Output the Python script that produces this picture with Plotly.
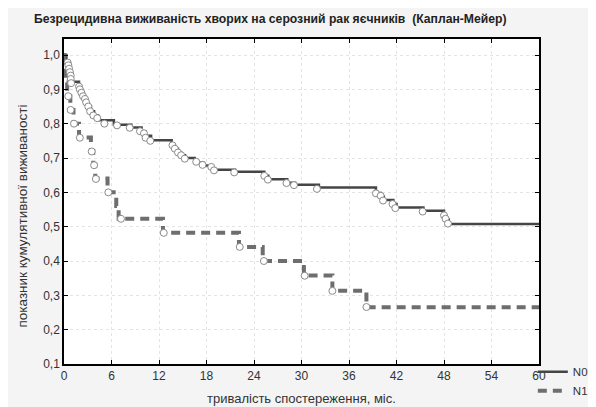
import plotly.graph_objects as go

# N0 step curve (time, survival)
t0 = [0, 0.3, 0.45, 0.6, 0.75, 0.9, 1.9, 2.1, 2.3, 2.5, 2.7, 2.9, 3.1, 3.4, 3.8, 4.3, 6.3, 8.5, 9.8,
      10.3, 11.0, 13.6, 14.0, 14.4, 14.8, 15.3, 16.5, 17.6, 18.6, 19.1, 21.6, 25.3, 25.8, 28.2, 29.2,
      32.2, 39.4, 40.0, 40.4, 41.6, 42.0, 45.4, 48.0, 48.3, 48.6, 60]
s0 = [1.0, 0.985, 0.97, 0.955, 0.94, 0.922, 0.908, 0.899, 0.889, 0.879, 0.87, 0.86, 0.85, 0.836, 0.824,
      0.81, 0.797, 0.789, 0.778, 0.765, 0.752, 0.738, 0.727, 0.716, 0.708, 0.70, 0.687, 0.678, 0.668,
      0.666, 0.66, 0.648, 0.638, 0.628, 0.622, 0.614, 0.598, 0.588, 0.578, 0.566, 0.556, 0.546, 0.532,
      0.521, 0.508, 0.508]
# N0 censored observations
c0x = [0.46, 0.55, 0.65, 0.75, 0.85, 0.85, 0.9, 1.9, 2.0, 2.2, 2.4, 2.65, 2.8, 3.07, 3.3, 3.7, 4.2, 5.1,
       6.7, 8.3, 9.6, 10.1, 10.3, 10.9, 13.7, 14.0, 14.4, 14.8, 15.25, 16.7, 17.5, 18.6, 18.95, 21.5,
       25.3, 25.75, 28.1, 29.05, 31.95, 39.4, 40.0, 40.3, 41.5, 41.85, 45.3, 48.0, 48.2, 48.5]
c0y = [0.978, 0.97, 0.96, 0.95, 0.94, 0.93, 0.918, 0.908, 0.90, 0.89, 0.88, 0.872, 0.862, 0.85, 0.836,
       0.824, 0.816, 0.80, 0.795, 0.788, 0.778, 0.772, 0.759, 0.75, 0.737, 0.727, 0.716, 0.708, 0.698,
       0.689, 0.68, 0.674, 0.664, 0.658, 0.648, 0.637, 0.627, 0.621, 0.61, 0.597, 0.59, 0.576, 0.566,
       0.554, 0.544, 0.533, 0.523, 0.509]

# N1 step curve
t1 = [0, 0.05, 0.15, 0.4, 0.8, 1.2, 1.9, 3.4, 3.7, 3.95, 5.5, 6.6, 6.9, 12.5, 22.1, 25.1, 30.3, 33.9, 38.2, 60]
s1 = [1.0, 0.96, 0.92, 0.88, 0.84, 0.80, 0.76, 0.72, 0.68, 0.64, 0.60, 0.56, 0.523, 0.482, 0.441, 0.40,
      0.358, 0.313, 0.265, 0.265]
c1x = [0.54, 0.84, 1.26, 2.0, 3.5, 3.8, 4.03, 5.6, 7.2, 12.6, 22.2, 25.25, 30.4, 33.9, 38.2]
c1y = [0.88, 0.84, 0.80, 0.759, 0.719, 0.679, 0.639, 0.60, 0.523, 0.482, 0.441, 0.40, 0.357, 0.313, 0.266]

x_ticks = [0, 6, 12, 18, 24, 30, 36, 42, 48, 54, 60]
y_ticks = [0.1, 0.2, 0.3, 0.4, 0.5, 0.6, 0.7, 0.8, 0.9, 1.0]

title = "Безрецидивна виживаність хворих на серозний рак яєчників  (Каплан-Мейер)"
x_title = "тривалість спостереження, міс."
y_title = "показник кумулятивної виживаності"

FONT = "Liberation Sans, Arial"

fig = go.Figure()
fig.add_trace(go.Scatter(x=t0, y=s0, mode="lines", line=dict(shape="hv", color="#454545", width=2.5),
                         name="N0"))
fig.add_trace(go.Scatter(x=t1, y=s1, mode="lines", line=dict(shape="hv", color="#6e6e6e", width=4,
                         dash="9px,6px"), name="N1"))
fig.add_trace(go.Scatter(x=c0x, y=c0y, mode="markers", showlegend=False,
                         marker=dict(symbol="circle", size=7, color="white",
                                     line=dict(color="#8a8a8a", width=1))))
fig.add_trace(go.Scatter(x=c1x, y=c1y, mode="markers", showlegend=False,
                         marker=dict(symbol="circle", size=7, color="white",
                                     line=dict(color="#8a8a8a", width=1))))

axis_common = dict(showline=True, linecolor="black", linewidth=1.5, mirror="ticks", ticks="inside",
                   ticklen=4, tickcolor="black", showgrid=True, gridcolor="#e4e4e4", griddash="dot",
                   zeroline=False, tickfont=dict(family=FONT, size=12, color="#333"))

# The page body adds an 8px offset, so the figure is 8px smaller than the window.
fig.update_layout(
    width=588, height=399,
    margin=dict(l=56, r=57, t=31, b=43, autoexpand=False),
    paper_bgcolor="#f4f4f4", plot_bgcolor="white",
    separators=", ",
    showlegend=True,
    legend=dict(x=0.987, y=0.021, xanchor="left", yanchor="top", bgcolor="rgba(0,0,0,0)",
                font=dict(family=FONT, size=11.5, color="#333"),
                tracegroupgap=0, itemwidth=30),
    annotations=[
        dict(text="<b>" + title + "</b>", xref="paper", yref="paper", x=0, xshift=-32, y=1, yshift=20,
             xanchor="left", yanchor="middle", showarrow=False,
             font=dict(family=FONT, size=12.2, color="#222")),
        dict(text=x_title, xref="paper", yref="paper", x=0.5, y=0, yshift=-34, showarrow=False,
             yanchor="middle", font=dict(family=FONT, size=13, color="#333")),
        dict(text=y_title, xref="paper", yref="paper", x=0, xshift=-42, y=0.5, yshift=-15, showarrow=False,
             textangle=-90, xanchor="center", font=dict(family=FONT, size=13.5, color="#333")),
    ],
)
fig.update_xaxes(range=[0, 60], tickvals=x_ticks, **axis_common)
fig.update_yaxes(range=[0.1, 1.0466], tickvals=y_ticks, tickformat=".1f", **axis_common)

fig.write_html("out.html")
